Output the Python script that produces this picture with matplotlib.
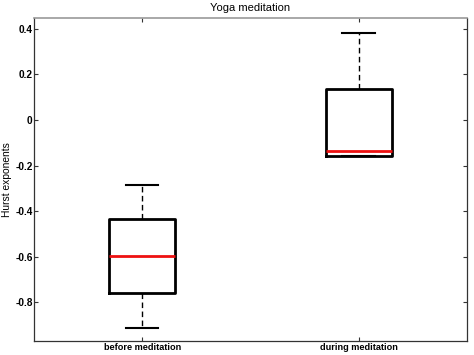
import matplotlib.pyplot as plt

plt.rcParams['font.family'] = ['Liberation Sans', 'DejaVu Sans']

groups = ['before meditation', 'during meditation']
medians = [-0.597, -0.136]
q1 = [-0.758, -0.158]
q3 = [-0.433, 0.136]
whislo = [-0.912, -0.158]
whishi = [-0.285, 0.380]
yticks = [-0.8, -0.6, -0.4, -0.2, 0, 0.2, 0.4]

stats = []
for n, g in enumerate(groups):
	stats.append({'label': g, 'med': medians[n], 'q1': q1[n], 'q3': q3[n],
	              'whislo': whislo[n], 'whishi': whishi[n], 'fliers': []})

fig = plt.figure(figsize=(4.74, 3.55), dpi=100)
ax = fig.add_axes([0.0718, 0.039, 0.913, 0.910])

ax.bxp(stats, positions=[1, 2], widths=0.305, capwidths=0.15, showfliers=False,
       boxprops=dict(color='black', linewidth=2.0),
       medianprops=dict(color='#ee1111', linewidth=2.0),
       whiskerprops=dict(color='black', linewidth=1.0, linestyle=(0, (4, 2.5))),
       capprops=dict(color='black', linewidth=1.5))

ax.set_xlim(0.5, 2.5)
ax.set_ylim(-0.97, 0.447)
ax.set_yticks(yticks)
ax.set_yticklabels(['-0.8', '-0.6', '-0.4', '-0.2', '0', '0.2', '0.4'], fontsize=7.3, fontweight='bold')
ax.set_xticks([1, 2])
ax.set_xticklabels(groups, fontsize=6.6, fontweight='bold')
ax.tick_params(direction='in', length=3, width=0.8, top=True, right=True, pad=1, colors='#333333')
ax.tick_params(axis='x', pad=1.5)
for tl in ax.get_xticklabels() + ax.get_yticklabels():
	tl.set_color('black')
for s in ['left', 'bottom', 'right']:
	ax.spines[s].set_color('#333333')
	ax.spines[s].set_linewidth(0.9)
ax.spines['top'].set_color('#999999')
ax.spines['top'].set_linewidth(1.2)

ax.set_title('Yoga meditation', fontsize=8, pad=5)
ax.set_ylabel('Hurst exponents', fontsize=7.4)
ax.yaxis.set_label_coords(-0.052, 0.5)

fig.savefig('out.png', dpi=100)
plt.close()
